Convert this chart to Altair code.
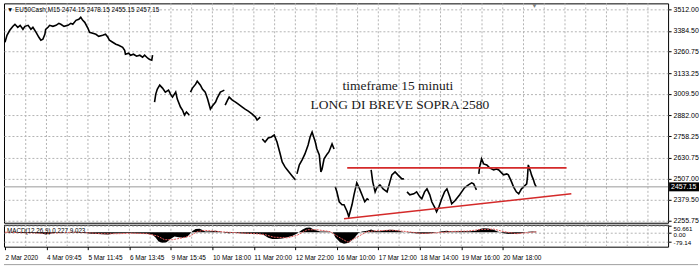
import altair as alt
import pandas as pd

# ---------------- data ----------------
header_text = "▼ EU50Cash,M15  2474.15 2478.15 2455.15 2457.15"
macd_text = "MACD(12,26,9) 0.227 9.023"
note_line1 = "timeframe 15 minuti"
note_line2 = "LONG DI BREVE SOPRA 2580"
last_price = 2457.15

# x axis: 15-minute bar index, a date label every 104 bars
label_bars = [0, 104, 208, 312, 416, 520, 624, 728, 832, 936, 1040, 1144, 1248]
label_texts = ["2 Mar 2020", "4 Mar 09:45", "5 Mar 11:45", "6 Mar 13:45", "9 Mar 15:45",
               "10 Mar 18:00", "11 Mar 20:00", "12 Mar 22:00", "16 Mar 10:00",
               "17 Mar 12:00", "18 Mar 14:00", "19 Mar 16:00", "20 Mar 18:00"]
grid_bars = [52 * k for k in range(1, 32)]

price_ticks = [3512.00, 3384.50, 3260.75, 3133.25, 3009.50, 2882.00,
               2758.25, 2630.75, 2507.00, 2379.50, 2255.75]
macd_ticks = [50.661, 0.0, -79.14]

price_bar = [
    0, 5, 12, 20, 25, 32, 38, 45, 50, 58, 65, 70, 78, 85, 90, 95, 100, 102, 108, 112,
    120, 128, 135, 140, 148, 158, 165, 170, 178, 185, 190, 195, 200, 208, 212, 220,
    228, 235, 245, 252, 258, 262, 270, 278, 285, 295, 300, 302, 310, 315, 322, 330,
    338, 345, 350, 358, 362, 368, 370,
    375, 378, 382, 388, 395, 402, 410, 415, 420, 428, 432, 440, 445, 450, 455, 462,
    465, 470, 478, 482, 490, 495, 502, 508, 515, 520, 528, 532, 540, 545, 550,
    552, 558, 562, 570, 578, 585, 595, 602, 610, 620, 628, 632, 640,
    645, 652, 660, 668, 675, 682, 690, 695, 702, 708, 712, 720, 728,
    732, 738, 745, 752, 760, 765, 770, 778, 782, 788, 792, 795, 800, 808, 812, 820, 825,
    828, 832, 838, 845, 850, 858, 862, 870, 875, 882, 888, 895, 902, 908, 912,
    918, 922, 928, 932, 940, 948, 958, 965, 970, 978, 985, 995, 1000,
    1008, 1015, 1025, 1032, 1040, 1045, 1052, 1058, 1065, 1070, 1078, 1082, 1088, 1095,
    1102, 1108, 1115, 1120, 1128, 1132, 1140, 1145, 1152, 1162, 1170, 1175, 1182,
    1188, 1190, 1195, 1200, 1208, 1215, 1225, 1232, 1238, 1245, 1250, 1258, 1262, 1270,
    1275, 1282, 1288, 1295, 1300, 1308, 1310, 1312, 1318, 1320, 1325, 1328, 1332]
price_close = [
    3316.4, 3357.9, 3387.6, 3411.3, 3423.1, 3405.3, 3417.2, 3393.5, 3411.3, 3417.2,
    3393.5, 3405.3, 3375.7, 3346.1, 3328.3, 3334.2, 3363.8, 3393.5, 3405.3, 3417.2,
    3411.3, 3417.2, 3429.0, 3423.1, 3411.3, 3417.2, 3429.0, 3423.1, 3446.8, 3452.7,
    3464.6, 3446.8, 3435.0, 3399.4, 3375.7, 3369.8, 3363.8, 3352.0, 3357.9, 3363.8,
    3346.1, 3328.3, 3316.4, 3304.6, 3298.7, 3286.8, 3269.0, 3245.3, 3251.3, 3239.4,
    3245.3, 3233.5, 3239.4, 3227.6, 3239.4, 3221.6, 3215.7, 3209.8, 3239.4,
    2960.9, 3008.3, 3038.0, 3061.7, 3043.9, 3020.2, 3032.0, 3008.3, 2990.5, 3020.2,
    2978.7, 2931.3, 2913.5, 2883.8, 2901.6, 2883.8,
    3020.2, 3043.9, 3067.6, 3085.3, 3061.7, 3038.0, 3020.2, 2978.7, 2919.4, 2937.2,
    2960.9, 2984.6, 3020.2, 3026.1, 3032.0,
    2943.1, 2972.7, 2990.5, 2972.7, 2960.9, 2949.0, 2931.3, 2919.4, 2907.5, 2889.8,
    2872.0, 2854.2, 2872.0,
    2741.6, 2723.9, 2747.5, 2753.5, 2765.3, 2723.9, 2652.8, 2605.3, 2575.7, 2557.9,
    2546.0, 2522.3, 2498.6,
    2534.2, 2587.5, 2617.2, 2652.8, 2706.1, 2753.5, 2783.1, 2723.9, 2682.4, 2646.8,
    2546.0, 2563.8, 2623.1, 2652.8, 2664.6, 2712.0, 2682.4,
    2457.2, 2427.5, 2368.3, 2350.5, 2350.5, 2309.0, 2279.4, 2350.5, 2409.8, 2480.8,
    2451.2, 2409.8, 2368.3, 2386.1, 2380.1,
    2557.9, 2486.8, 2427.5, 2451.2, 2469.0, 2445.3, 2427.5, 2486.8, 2528.3, 2546.0,
    2528.3, 2504.5, 2504.5,
    2427.5, 2409.8, 2415.7, 2427.5, 2397.9, 2386.1, 2427.5, 2445.3, 2409.8, 2368.3,
    2332.7, 2309.0, 2338.7, 2386.1, 2427.5, 2445.3, 2397.9, 2356.3, 2374.2, 2386.1,
    2409.8, 2427.5, 2451.2, 2469.0, 2480.8, 2474.9, 2439.4,
    2534.2, 2575.7, 2623.1, 2593.5, 2587.5, 2569.8, 2557.9, 2563.8, 2557.9, 2540.1,
    2528.3, 2534.2, 2528.3, 2486.8, 2457.2, 2427.5, 2415.7, 2445.3, 2457.2, 2474.9,
    2516.4, 2587.5, 2546.0, 2528.3, 2498.6, 2474.9, 2457.15]
session_sizes = [59, 16, 15, 13, 13, 17, 15, 13, 27, 27]
price_session = [i for i, n in enumerate(session_sizes) for _ in range(n)]

# trend lines drawn on the chart
trend_id = ["resistance", "resistance", "support", "support"]
trend_bar = [858, 1408, 850, 1420]
trend_price = [2570.0, 2570.0, 2267.5, 2415.7]

# MACD histogram and signal
macd_bar = [0, 20, 45, 70, 95, 102, 115, 132, 158, 182, 195, 215, 232, 258, 275, 290,
            308, 332, 358, 370, 378, 385, 395, 405, 415, 425, 435, 445, 455, 462, 470,
            478, 488, 495, 502, 515, 528, 540, 550, 562, 575, 590, 608, 625, 640, 650,
            660, 670, 682, 695, 708, 720, 732, 745, 755, 765, 775, 790, 808, 822, 828,
            840, 850, 862, 875, 885, 895, 908, 918, 928, 940, 952, 965, 978, 990, 1002,
            1015, 1028, 1045, 1062, 1078, 1095, 1108, 1120, 1132, 1150, 1165, 1180, 1190,
            1200, 1212, 1225, 1235, 1245, 1258, 1275, 1290, 1302, 1312, 1322, 1332]
macd_hist = [0, -3, -6, -4, -12, -18, -10, -3, 2, 3, -2, -12, -15, -18, -10, -8,
             -6, -10, -15, -20, -45, -75, -85, -80, -55, -35, -40, -45, -40, -20, 10,
             25, 28, 18, 5, 8, 12, 5, -5, -8, -5, -8, -12, -15, -15, -25,
             -45, -55, -55, -50, -40, -30, -10, 20, 35, 38, 20, 5, 5, 0, -40,
             -80, -93, -85, -50, -10, 5, 12, 22, 10, 8, 15, 20, 18, 10, 0,
             -5, -8, -12, -10, -5, 8, 12, 5, 8, 10, 8, 12, 25,
             32, 30, 20, 5, -5, -12, -15, -10, -5, 3, 5, 4]
signal_bar = [0, 45, 95, 132, 170, 208, 245, 282, 320, 358, 382, 400, 420, 445, 465, 482,
              500, 520, 545, 582, 620, 650, 675, 708, 732, 758, 782, 815, 840, 860, 885,
              908, 932, 970, 1008, 1045, 1082, 1120, 1158, 1195, 1225, 1250, 1282, 1315, 1332]
signal_val = [0, -4, -8, -6, 0, -5, -12, -12, -8, -12, -30, -60, -60, -45, -30, 5,
              15, 10, 3, -5, -10, -18, -40, -45, -25, 20, 20, 5, -45, -80, -35,
              5, 12, 16, 5, -10, -5, 6, 9, 22, 25, 5, -12, -2, 3]

# ---------------- chart ----------------
W = 666
H_PRICE = 220
H_MACD = 22
FONT = "Liberation Sans"
GRID = "#b4b4b4"

price_df = pd.DataFrame({"bar": price_bar, "price": price_close, "session": price_session})
trend_df = pd.DataFrame({"bar": trend_bar, "price": trend_price, "line": trend_id})
grid_df = pd.DataFrame({"bar": grid_bars})
last_df = pd.DataFrame({"price": [last_price], "label": [f"{last_price:.2f}"]})
macd_df = pd.DataFrame({"bar": macd_bar, "macd": macd_hist})
sig_df = pd.DataFrame({"bar": signal_bar, "macd": signal_val})

xs = alt.Scale(domain=[-2.5, 1662.5], nice=False, zero=False)
ys = alt.Scale(domain=[2243.8, 3547.6], nice=False, zero=False)
ms = alt.Scale(domain=[-116, 60], nice=False, zero=False)

price_axis = alt.Axis(orient="right", values=price_ticks, format=".2f", grid=True,
                      gridDash=[2, 2], gridColor=GRID, tickSize=3, tickColor="black",
                      domain=False, labelFont=FONT, labelFontSize=7, labelColor="black",
                      labelPadding=2, labelOverlap=False, labelFlush=False, title=None)


def py(field="price:Q"):
    return alt.Y(field, scale=ys, axis=price_axis)


vgrid = alt.Chart(grid_df).mark_rule(color=GRID, strokeDash=[2, 2], strokeWidth=1).encode(
    x=alt.X("bar:Q", scale=xs, axis=None))

price_line = alt.Chart(price_df).mark_line(color="black", strokeWidth=1.6).encode(
    x=alt.X("bar:Q", scale=xs, axis=None), y=py(), detail="session:N")

bid_line = alt.Chart(last_df).mark_rule(color="#9a9a9a", strokeWidth=1).encode(y=py())

trend = alt.Chart(trend_df).mark_line(color="#d42a2a", strokeWidth=1.6).encode(
    x=alt.X("bar:Q", scale=xs, axis=None), y=py(), detail="line:N")

box = alt.Chart(last_df).mark_point(
    shape="M-1,-0.3L1,-0.3L1,0.3L-1,0.3Z", size=900, filled=True, color="black",
    opacity=1, strokeWidth=0).encode(x=alt.value(W + 16), y=py())
box_text = alt.Chart(last_df).mark_text(
    align="left", baseline="middle", color="white", font=FONT, fontSize=7).encode(
    x=alt.value(W + 3), y=py(), text="label:N")

note1 = alt.Chart(pd.DataFrame({"t": [note_line1]})).mark_text(
    font="Liberation Serif", fontSize=13.5, color="#1a1a1a", align="center",
    baseline="middle").encode(x=alt.value(395), y=alt.value(83), text="t:N")
note2 = alt.Chart(pd.DataFrame({"t": [note_line2]})).mark_text(
    font="Liberation Serif", fontSize=13.5, color="#1a1a1a", align="center",
    baseline="middle").encode(x=alt.value(397), y=alt.value(102), text="t:N")
header = alt.Chart(pd.DataFrame({"t": [header_text]})).mark_text(
    font=FONT, fontSize=6.4, color="black", align="left", baseline="middle").encode(
    x=alt.value(3), y=alt.value(7), text="t:N")
shift_mark = alt.Chart(pd.DataFrame({"t": ["▼"]})).mark_text(
    fontSize=7, color="#808080", align="center", baseline="middle").encode(
    x=alt.value(532), y=alt.value(3), text="t:N")

price_panel = alt.layer(vgrid, price_line, bid_line, trend, note1, note2, header,
                        shift_mark, box, box_text).properties(width=W, height=H_PRICE)

label_js = "[" + ",".join("'" + t + "'" for t in label_texts) + "]"
macd_axis_x = alt.Axis(values=label_bars, labelExpr=f"{label_js}[round(datum.value/104)]",
                       grid=False, tickSize=3, tickColor="black", domain=False,
                       labelFont=FONT, labelFontSize=6.5, labelColor="black",
                       labelAlign="left", labelPadding=5, labelFlush=False,
                       labelOverlap=False, title=None)
macd_axis_y = alt.Axis(orient="right", values=macd_ticks,
                       labelExpr="datum.value == 0 ? '0.00' : '' + datum.value",
                       labelOffset={"condition": {"test": "datum.value >= 0", "value": 2.5},
                                    "value": 0},
                       grid=True, gridDash=[2, 2], gridColor=GRID, tickSize=3,
                       tickColor="black", domain=False, labelFont=FONT, labelFontSize=6.2,
                       labelColor="black", labelPadding=2, labelOverlap=False,
                       labelFlush=False, title=None)

mgrid = alt.Chart(grid_df).mark_rule(color=GRID, strokeDash=[2, 2], strokeWidth=1).encode(
    x=alt.X("bar:Q", scale=xs, axis=macd_axis_x))
hist = alt.Chart(macd_df).mark_area(color="black", opacity=1).encode(
    x=alt.X("bar:Q", scale=xs, axis=macd_axis_x),
    y=alt.Y("macd:Q", scale=ms, axis=macd_axis_y),
    y2=alt.datum(0))
sig = alt.Chart(sig_df).mark_line(color="#e05a5a", strokeWidth=1, strokeDash=[2, 1]).encode(
    x=alt.X("bar:Q", scale=xs, axis=macd_axis_x),
    y=alt.Y("macd:Q", scale=ms, axis=macd_axis_y))
macd_label = alt.Chart(pd.DataFrame({"t": [macd_text]})).mark_text(
    font=FONT, fontSize=6.3, color="black", align="left", baseline="middle").encode(
    x=alt.value(3), y=alt.value(6), text="t:N")
tabline = alt.Chart(pd.DataFrame({"t": [0]})).mark_rule(color="#a0a0a0").encode(
    x=alt.value(0), x2=alt.value(W + 30), y=alt.value(40))

macd_panel = alt.layer(mgrid, hist, sig, macd_label, tabline).properties(
    width=W, height=H_MACD)

chart = alt.vconcat(price_panel, macd_panel, spacing=2, bounds="flush").properties(
    padding={"left": 1, "top": 1, "right": 0, "bottom": 0},
    background="white",
).configure_view(stroke="black", strokeWidth=1).configure_axis(labelOverlap=False)

chart.save("out.html", embed_options={"renderer": "svg", "actions": False})
